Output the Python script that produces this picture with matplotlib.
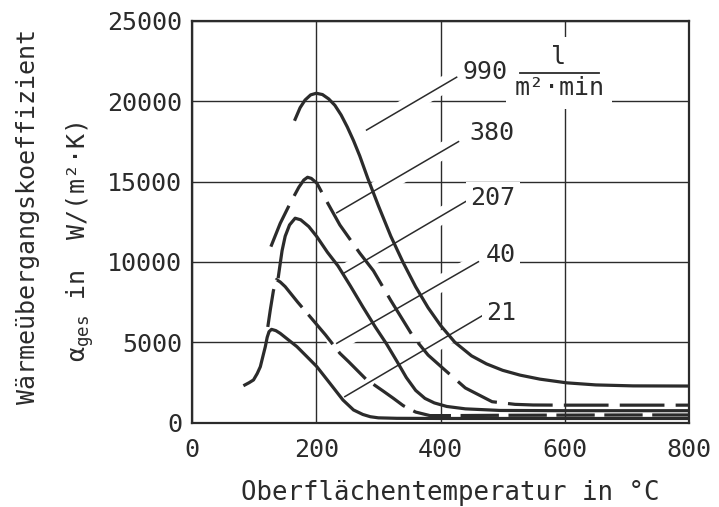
import matplotlib.pyplot as plt
import matplotlib.patheffects as pe

plt.rcParams['font.family'] = ['DejaVu Sans Mono', 'DejaVu Sans']

# Oberflaechentemperatur in degC / alpha_ges in W/(m2 K), je Wasserbeaufschlagung
t_990 = [166, 174, 182, 191, 200, 210, 220, 230, 240, 250, 260, 270, 283, 300, 320, 340,
         360, 380, 400, 423, 450, 474, 500, 528, 560, 603, 650, 710, 800]
a_990 = [18880, 19600, 20080, 20400, 20500, 20420, 20150, 19750, 19150, 18400, 17550, 16600,
         15200, 13500, 11600, 9950, 8450, 7150, 6050, 5000, 4150, 3650, 3250, 2950, 2700,
         2470, 2340, 2280, 2270]

t_380 = [127, 142, 158, 172, 180, 186, 192, 201, 215, 238, 249, 270, 292, 320, 346, 356,
         380, 407, 440, 483, 520, 549, 600, 700, 800]
a_380 = [10950, 12400, 13650, 14650, 15100, 15270, 15200, 14900, 13900, 12300, 11700, 10550,
         9450, 7600, 5970, 5340, 4200, 3270, 2150, 1295, 1130, 1090, 1080, 1080, 1080]

t_207 = [139, 142, 145, 150, 157, 166, 175, 188, 201, 218, 235, 255, 275, 295, 313, 330,
         345, 360, 375, 390, 410, 440, 496, 600, 800]
a_207 = [9080, 9900, 10700, 11600, 12300, 12720, 12620, 12200, 11570, 10600, 9750, 8500,
         7200, 5950, 4900, 3800, 2800, 2000, 1500, 1220, 1000, 850, 750, 735, 735]

t_40 = [122, 126, 131, 136, 142, 150, 170, 190, 215, 238, 252, 280, 308, 324, 340, 360,
        383, 420, 500, 600, 700, 800]
a_40 = [5950, 7000, 8200, 8900, 8750, 8460, 7500, 6590, 5450, 4310, 3790, 2700, 1950, 1510,
        1050, 650, 430, 430, 450, 460, 470, 470]

t_21 = [85, 92, 99, 105, 110, 114, 118, 121, 124, 128, 135, 142, 155, 169, 185, 201, 222,
        243, 260, 275, 287, 300, 330, 400, 500, 800]
a_21 = [2335, 2480, 2650, 3050, 3475, 4100, 4720, 5300, 5655, 5800, 5720, 5550, 5150, 4720,
        4100, 3475, 2440, 1400, 780, 500, 360, 290, 260, 250, 250, 250]

labels = ['990', '380', '207', '40', '21']
x_ticks = [0, 200, 400, 600, 800]
y_ticks = [0, 5000, 10000, 15000, 20000, 25000]

ink = '#2b2b2b'
W, H = 719, 507

fig = plt.figure(figsize=(W / 100, H / 100), dpi=100)
ax = fig.add_axes([192 / W, 1 - 422.5 / H, (689 - 192) / W, (422.5 - 21) / H])
ax.set_xlim(0, 800)
ax.set_ylim(0, 25000)
ax.set_xticks(x_ticks)
ax.set_yticks(y_ticks)
ax.grid(True, color=ink, lw=1.0)
ax.set_axisbelow(True)
ax.tick_params(length=0, labelsize=18, colors=ink)
ax.tick_params(axis='x', pad=11)
ax.tick_params(axis='y', pad=7)
for s in ax.spines.values():
    s.set_linewidth(1.6)
    s.set_color(ink)

curves = [
    (t_990, a_990, '-'),
    (t_380, a_380, (0, (14, 3.5))),
    (t_207, a_207, '-'),
    (t_40, a_40, (0, (12, 3))),
    (t_21, a_21, '-'),
]
for t, a, ls in curves:
    ax.plot(t, a, color=ink, lw=2.3, ls=ls, solid_joinstyle='round',
            dash_joinstyle='round', zorder=4)

# Bezugslinien von der Kurve zur Beschriftung (weisser Rand unterbricht das Gitter)
leaders = [
    ((281, 18210), (426, 21500)),
    ((233, 13060), (429, 17490)),
    ((244, 9290), (445, 13860)),
    ((233, 4930), (461, 10010)),
    ((246, 1610), (469, 6690)),
]
label_pos = [(436, 21840), (446, 18030), (448, 13980), (473, 10430), (473, 6820)]
halo = [pe.Stroke(linewidth=12, foreground='white'), pe.Normal()]
for (p0, p1), (lx, ly), txt in zip(leaders, label_pos, labels):
    ax.plot([p0[0], p1[0]], [p0[1], p1[1]], color=ink, lw=1.1, zorder=2,
            path_effects=halo)
    ax.text(lx, ly, txt, fontsize=18, color=ink, ha='left', va='center', zorder=3,
            bbox=dict(fc='white', ec='none', pad=3))

# Einheit der Beaufschlagung als Bruch l / (m2 min)
ax.text(590, 22000, 'l', fontsize=18, color=ink, ha='center', va='bottom', zorder=3,
        bbox=dict(fc='white', ec='none', pad=6))
ax.text(591, 21550, 'm²·min', fontsize=18, color=ink, ha='center', va='top', zorder=3,
        bbox=dict(fc='white', ec='none', pad=6))
ax.plot([528, 655], [21780, 21780], color=ink, lw=1.3, zorder=5, clip_on=False)

fig.text(450 / W, 1 - 493 / H, 'Oberflächentemperatur in °C', fontsize=18.5, color=ink,
         ha='center', va='center')
fig.text(28 / W, 1 - 217 / H, 'Wärmeübergangskoeffizient', fontsize=18, color=ink,
         rotation=90, ha='center', va='center')
fig.text(80 / W, 1 - 242 / H, r'α$\mathregular{_{ges}}$ in  W/(m²·K)', fontsize=18,
         color=ink, rotation=90, ha='center', va='center')

fig.savefig('out.png', dpi=100)
